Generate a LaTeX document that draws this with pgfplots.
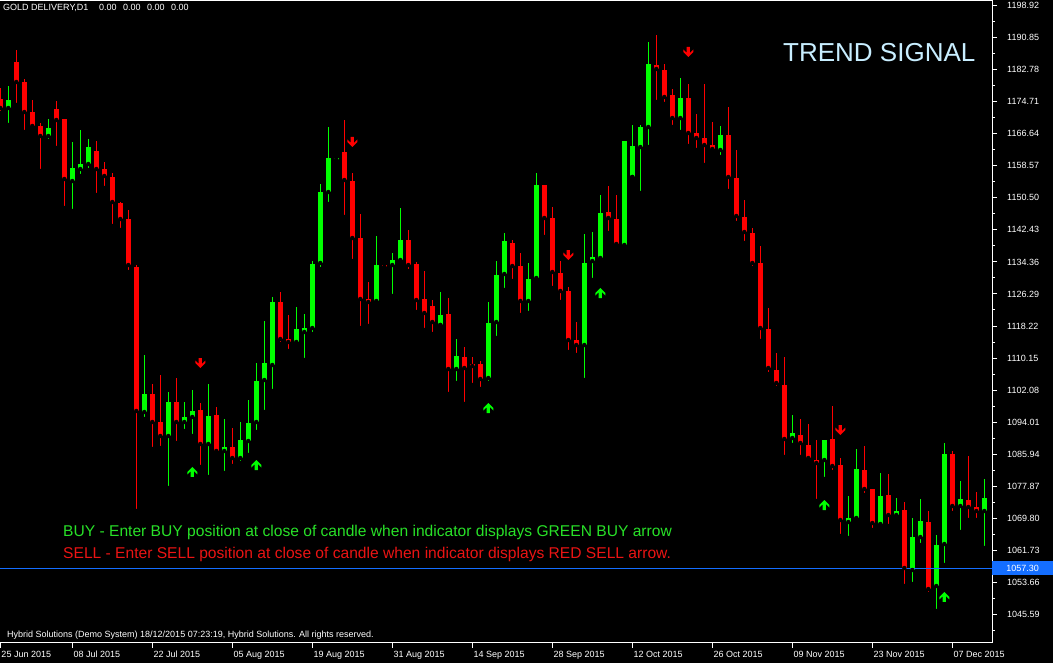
\documentclass[border=0pt]{standalone}
\usepackage{fontspec}
\setmainfont{Liberation Sans}
\usepackage{pgfplots}
\usepackage{pgfplotstable}
\pgfplotsset{compat=1.18}
\definecolor{cgreen}{RGB}{0,255,0}
\definecolor{cred}{RGB}{255,0,0}
\definecolor{mtblue}{RGB}{20,110,255}
\definecolor{signal}{RGB}{200,238,255}
\definecolor{buytxt}{RGB}{40,225,40}
\definecolor{selltxt}{RGB}{235,20,20}

\pgfdeclareplotmark{uparr}{%
 \pgfpathmoveto{\pgfqpoint{0pt}{5pt}}%
 \pgfpathlineto{\pgfqpoint{5pt}{0pt}}%
 \pgfpathlineto{\pgfqpoint{5pt}{-2.5pt}}%
 \pgfpathlineto{\pgfqpoint{1.6pt}{0.9pt}}%
 \pgfpathlineto{\pgfqpoint{1.6pt}{-5pt}}%
 \pgfpathlineto{\pgfqpoint{-1.6pt}{-5pt}}%
 \pgfpathlineto{\pgfqpoint{-1.6pt}{0.9pt}}%
 \pgfpathlineto{\pgfqpoint{-5pt}{-2.5pt}}%
 \pgfpathlineto{\pgfqpoint{-5pt}{0pt}}%
 \pgfpathclose\pgfusepathqfill}
\pgfdeclareplotmark{dnarr}{%
 \pgfpathmoveto{\pgfqpoint{0pt}{-5pt}}%
 \pgfpathlineto{\pgfqpoint{5pt}{0pt}}%
 \pgfpathlineto{\pgfqpoint{5pt}{2.5pt}}%
 \pgfpathlineto{\pgfqpoint{1.6pt}{-0.9pt}}%
 \pgfpathlineto{\pgfqpoint{1.6pt}{5pt}}%
 \pgfpathlineto{\pgfqpoint{-1.6pt}{5pt}}%
 \pgfpathlineto{\pgfqpoint{-1.6pt}{-0.9pt}}%
 \pgfpathlineto{\pgfqpoint{-5pt}{2.5pt}}%
 \pgfpathlineto{\pgfqpoint{-5pt}{0pt}}%
 \pgfpathclose\pgfusepathqfill}

% bullish candles: index, open, high, low, close
\pgfplotstableread{
k o h l c
1 1173.11 1178.65 1168.83 1175.12
6 1166.06 1170.34 1164.80 1168.07
9 1154.73 1164.55 1147.18 1158.00
10 1157.75 1167.57 1155.99 1159.01
11 1159.01 1165.31 1157.50 1163.29
18 1096.57 1110.93 1094.81 1101.11
21 1090.53 1101.61 1077.44 1099.09
23 1094.06 1099.09 1091.79 1095.32
24 1095.32 1102.11 1090.53 1096.83
26 1088.52 1103.62 1080.21 1095.57
28 1086.76 1094.81 1081.22 1087.76
30 1084.99 1094.06 1083.74 1089.53
31 1089.27 1099.60 1085.75 1093.81
32 1094.06 1108.91 1091.54 1104.38
33 1104.63 1119.49 1096.57 1108.91
34 1108.41 1125.53 1101.86 1124.27
37 1114.20 1123.01 1113.69 1117.47
38 1116.72 1121.25 1109.67 1117.72
39 1117.72 1134.59 1116.21 1133.84
40 1134.09 1153.98 1132.58 1151.96
41 1151.96 1168.33 1148.94 1160.52
42 1160.10 1160.40 1160.10 1160.40
47 1124.52 1140.88 1124.02 1133.58
49 1133.58 1136.60 1125.78 1134.84
50 1134.84 1147.93 1133.84 1139.88
55 1118.48 1126.79 1118.48 1121.00
57 1107.40 1114.95 1103.88 1110.67
61 1105.13 1124.27 1103.88 1118.98
62 1119.23 1134.59 1115.21 1131.07
63 1131.32 1141.64 1127.29 1139.63
66 1124.52 1134.09 1121.50 1130.06
67 1130.31 1156.75 1129.81 1153.72
73 1113.44 1141.39 1104.63 1134.09
74 1134.59 1141.89 1129.81 1135.60
75 1135.35 1151.21 1134.84 1146.67
78 1138.62 1164.80 1138.37 1164.80
79 1155.74 1168.83 1155.74 1163.54
80 1163.29 1168.83 1151.71 1168.33
81 1168.33 1189.73 1163.29 1184.19
85 1170.59 1180.66 1167.07 1175.63
90 1162.54 1168.58 1160.77 1166.31
99 1090.03 1095.82 1088.27 1091.29
103 1084.49 1089.53 1079.71 1089.53
106 1068.88 1075.43 1064.85 1069.89
107 1069.89 1087.26 1069.64 1082.22
110 1068.38 1081.22 1068.13 1075.43
112 1070.64 1074.92 1069.64 1071.65
114 1056.80 1069.89 1053.27 1065.10
115 1065.10 1074.67 1063.09 1069.13
117 1052.77 1065.61 1046.47 1063.09
118 1063.34 1088.77 1058.06 1086.00
120 1072.91 1079.20 1066.36 1074.67
123 1071.65 1079.71 1062.34 1074.92
}\bullish

% bearish candles
\pgfplotstableread{
k o h l c
0 1175.38 1178.15 1171.85 1173.11
2 1184.69 1187.71 1173.87 1179.66
3 1179.66 1180.41 1167.07 1172.10
4 1172.10 1175.12 1167.57 1168.58
5 1168.58 1169.33 1157.25 1166.06
7 1172.86 1174.87 1163.04 1170.09
8 1170.34 1170.34 1147.93 1155.23
12 1162.28 1164.80 1151.21 1157.75
13 1157.75 1159.51 1152.97 1155.99
14 1155.74 1156.75 1143.40 1149.44
15 1149.19 1149.44 1142.40 1145.16
16 1145.16 1147.43 1131.82 1133.58
17 1133.08 1133.58 1071.65 1096.83
19 1101.11 1103.62 1087.26 1094.06
20 1094.06 1105.89 1087.51 1090.53
22 1099.09 1105.13 1088.77 1094.06
25 1097.08 1098.84 1082.73 1088.52
27 1095.82 1097.83 1086.00 1086.76
29 1087.76 1092.55 1082.98 1084.99
35 1124.27 1126.79 1113.69 1114.95
36 1114.95 1121.00 1111.93 1114.20
43 1162.03 1170.09 1145.67 1154.98
44 1154.73 1156.75 1134.59 1140.38
45 1140.38 1146.42 1117.72 1125.02
46 1125.02 1129.30 1118.23 1124.27
48 1133.58 1133.58 1133.08 1133.08
51 1139.88 1142.40 1132.07 1133.58
52 1133.84 1134.34 1121.75 1124.77
53 1125.02 1132.07 1117.22 1121.50
54 1123.26 1124.77 1116.21 1119.23
56 1121.25 1125.28 1101.11 1107.40
58 1110.42 1112.94 1098.59 1107.65
59 1108.66 1110.42 1103.37 1108.16
60 1108.66 1109.41 1102.37 1104.88
64 1139.12 1139.88 1129.56 1133.33
65 1133.33 1136.60 1121.00 1124.52
68 1153.72 1153.72 1140.63 1145.42
69 1145.42 1148.19 1127.79 1131.82
70 1131.57 1134.59 1124.27 1127.04
71 1127.04 1128.04 1111.68 1114.70
72 1114.70 1119.23 1110.93 1113.44
76 1146.93 1153.47 1141.64 1145.42
77 1145.16 1151.21 1138.62 1138.87
82 1183.94 1191.49 1174.62 1182.93
83 1182.68 1184.19 1174.12 1175.88
84 1176.38 1177.89 1168.33 1170.59
86 1175.63 1179.15 1163.54 1166.82
87 1166.82 1171.60 1162.54 1165.56
88 1165.56 1179.15 1158.76 1163.79
89 1163.79 1169.59 1162.03 1162.79
91 1166.31 1173.36 1152.21 1155.74
92 1155.49 1162.54 1144.16 1145.92
93 1145.67 1149.95 1139.12 1141.89
94 1141.64 1142.90 1132.83 1134.09
95 1134.09 1138.37 1114.45 1117.72
96 1117.47 1122.76 1106.14 1107.65
97 1107.15 1111.43 1102.62 1103.88
98 1103.37 1110.42 1085.25 1089.78
100 1090.78 1094.81 1085.25 1088.77
101 1088.27 1093.55 1083.99 1084.99
102 1084.49 1089.53 1074.17 1083.74
104 1089.78 1098.09 1081.47 1082.98
105 1083.23 1084.99 1065.36 1069.38
108 1081.97 1088.02 1075.68 1077.19
109 1077.19 1077.19 1066.87 1068.63
111 1075.68 1080.97 1067.87 1070.64
113 1071.90 1073.92 1052.77 1057.30
116 1068.88 1071.65 1050.75 1052.01
119 1086.00 1086.76 1071.15 1072.91
121 1074.42 1085.50 1069.38 1072.66
122 1072.66 1076.43 1069.38 1071.65
}\bearish

\pgfplotstableread{
k p
24 1081.47
32 1083.23
61 1097.58
75 1126.53
103 1073.16
118 1050.00
}\buyarr

\pgfplotstableread{
k p
25 1108.91
44 1164.55
71 1136.10
86 1187.21
105 1092.04
}\sellarr

\begin{document}
\begin{tikzpicture}
\fill[black] (0pt,-20pt) rectangle (1053pt,643pt);
\begin{axis}[
  at={(0pt,0pt)}, anchor=south west,
  scale only axis, width=992pt, height=642pt,
  xmin=-0.0375, xmax=123.9625, ymin=1038.42, ymax=1200.05,
  axis line style={white, line width=1pt},
  tick style={white, line width=1pt},
  tick align=outside,
  major tick length=5pt, minor tick length=3pt,
  xtick pos=left, ytick pos=right, yticklabel pos=right,
  xtick={0,9,19,29,39,49,59,69,79,89,99,109,119},
  xticklabels={25 Jun 2015,08 Jul 2015,22 Jul 2015,05 Aug 2015,19 Aug 2015,31 Aug 2015,14 Sep 2015,28 Sep 2015,12 Oct 2015,26 Oct 2015,09 Nov 2015,23 Nov 2015,07 Dec 2015},
  ytick={1198.92,1190.85,1182.78,1174.71,1166.64,1158.57,1150.50,1142.43,1134.36,1126.29,1118.22,1110.15,1102.08,1094.01,1085.94,1077.87,1069.80,1061.73,1053.66,1045.59},
  minor ytick={1194.885,1186.815,1178.745,1170.675,1162.605,1154.535,1146.465,1138.395,1130.325,1122.255,1114.185,1106.115,1098.045,1089.975,1081.905,1073.835,1065.765,1057.695,1049.625,1041.555},
  scaled y ticks=false,
  yticklabel={\pgfmathprintnumber[fixed,fixed zerofill,precision=2,1000 sep={}]{\tick}},
  /pgf/number format/assume math mode=true,
  yticklabel style={font=\fontsize{9pt}{10pt}\selectfont, text=white, anchor=west, inner sep=0pt, xshift=10pt},
  xticklabel style={font=\fontsize{9pt}{10pt}\selectfont, text=white, anchor=north west, inner sep=0pt, xshift=1pt, yshift=-3pt},
]
% wicks: from low up to high
\addplot[only marks, mark=none, forget plot, error bars/.cd, y dir=plus, y explicit, error mark=none,
  error bar style={draw=cgreen, line width=1pt}]
  table[x=k, y=l, y error expr={\thisrow{h}-\thisrow{l}}] {\bullish};
\addplot[only marks, mark=none, forget plot, error bars/.cd, y dir=plus, y explicit, error mark=none,
  error bar style={draw=cred, line width=1pt}]
  table[x=k, y=l, y error expr={\thisrow{h}-\thisrow{l}}] {\bearish};
% bodies: from lower of open/close up to the upper one
\addplot[only marks, mark=none, forget plot, error bars/.cd, y dir=plus, y explicit, error mark=none,
  error bar style={draw=cgreen, line width=5pt}]
  table[x=k, y expr={min(\thisrow{o},\thisrow{c})}, y error expr={max(abs(\thisrow{c}-\thisrow{o}),0.4)}] {\bullish};
\addplot[only marks, mark=none, forget plot, error bars/.cd, y dir=plus, y explicit, error mark=none,
  error bar style={draw=cred, line width=5pt}]
  table[x=k, y expr={min(\thisrow{o},\thisrow{c})}, y error expr={max(abs(\thisrow{c}-\thisrow{o}),0.4)}] {\bearish};
% signal arrows
\addplot[only marks, color=cgreen, mark=uparr] table[x=k, y=p] {\buyarr};
\addplot[only marks, color=cred, mark=dnarr] table[x=k, y=p] {\sellarr};
% bid line
\addplot[mtblue, line width=1pt] coordinates {(-1,1057.30) (125,1057.30)};
\end{axis}
\node[anchor=base west, inner sep=0pt, text=white, font=\fontsize{9pt}{10pt}\selectfont] at (3pt,632pt) {GOLD DELIVERY,D1};
\node[anchor=base west, inner sep=0pt, text=white, font=\fontsize{9pt}{10pt}\selectfont] at (99pt,632pt) {0.00};
\node[anchor=base west, inner sep=0pt, text=white, font=\fontsize{9pt}{10pt}\selectfont] at (123pt,632pt) {0.00};
\node[anchor=base west, inner sep=0pt, text=white, font=\fontsize{9pt}{10pt}\selectfont] at (147pt,632pt) {0.00};
\node[anchor=base west, inner sep=0pt, text=white, font=\fontsize{9pt}{10pt}\selectfont] at (171pt,632pt) {0.00};
\node[anchor=west, inner sep=0pt, text=signal, font=\fontsize{26pt}{30pt}\selectfont] at (783pt,590pt) {TREND SIGNAL};
\node[anchor=base west, inner sep=0pt, text=buytxt, font=\fontsize{15.6pt}{18pt}\selectfont] at (63pt,106.4pt) {BUY - Enter BUY position at close of candle when indicator displays GREEN BUY arrow};
\node[anchor=base west, inner sep=0pt, text=selltxt, font=\fontsize{15.6pt}{18pt}\selectfont] at (63pt,84.4pt) {SELL - Enter SELL position at close of candle when indicator displays RED SELL arrow.};
\node[anchor=base west, inner sep=0pt, text=white, font=\fontsize{9pt}{10pt}\selectfont] at (7pt,5pt) {Hybrid Solutions (Demo System) 18/12/2015 07:23:19, Hybrid Solutions. All rights reserved.};
\node[fill=mtblue, anchor=west, minimum width=61pt, minimum height=14pt, inner sep=0pt, text=white, font=\fontsize{9pt}{10pt}\selectfont] at (992pt,75pt) {1057.30};
\pgfresetboundingbox
\useasboundingbox (0pt,-20pt) rectangle (1053pt,643pt);
\end{tikzpicture}
\end{document}
